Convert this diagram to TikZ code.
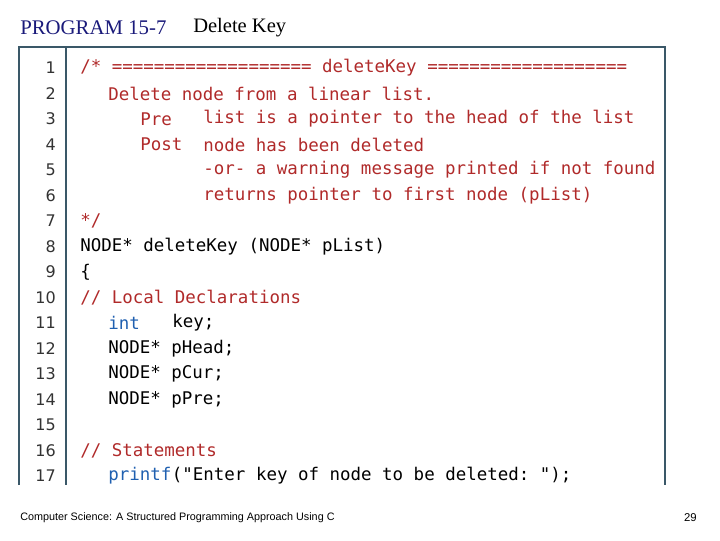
\documentclass[tikz,border=0pt]{standalone}
\usepackage{fontspec}
\setmainfont{Liberation Serif}
\setsansfont{Liberation Sans}
\setmonofont{DejaVu Sans Mono}
\newfontfamily\numfont{DejaVu Sans}
\definecolor{cm}{HTML}{B02A2A}
\definecolor{kw}{HTML}{2060B0}
\definecolor{frame}{HTML}{3A5868}
\definecolor{ttl}{HTML}{1A1A7A}
\begin{document}
\begin{tikzpicture}[x=0.75pt,y=-0.75pt,
  code/.style={anchor=west,inner sep=0pt,font=\ttfamily\fontsize{13.1}{14}\selectfont},
  lnum/.style={anchor=east,inner sep=0pt,font=\numfont\fontsize{12}{14}\selectfont,text=black!80}]
\useasboundingbox (0,0) rectangle (720,540);
\node[anchor=west,inner sep=0pt,text=ttl,font=\fontsize{15.6}{17}\selectfont] (t1) at (20,28) {PROGRAM 15-7};
\node[anchor=west,inner sep=0pt,font=\fontsize{15.4}{17}\selectfont] (t2) at (193,28) {Delete Key};
\draw[frame,line width=1pt] (19,485) -- (19,47) -- (665,47) -- (665,485);
\draw[frame,line width=0.8pt] (66,47) -- (66,485);
\foreach \i in {1,...,17} \node[lnum] (n\i) at (56,{68+(\i-1)*25.5}) {\i};
\def\Y#1{{68+(#1-1)*25.5}}
\node[code,text=cm] (c1) at (80,\Y1) {/* =================== deleteKey ===================};
\node[code,text=cm] (c2) at (108,\Y2) {Delete node from a linear list.};
\node[code,text=cm] (c3a) at (140,\Y3) {Pre};
\node[code,text=cm] (c3b) at (203,\Y3) {list is a pointer to the head of the list};
\node[code,text=cm] (c4a) at (140,\Y4) {Post};
\node[code,text=cm] (c4b) at (203,\Y4) {node has been deleted};
\node[code,text=cm] (c5) at (203,\Y5) {-or- a warning message printed if not found};
\node[code,text=cm] (c6) at (203,\Y6) {returns pointer to first node (pList)};
\node[code,text=cm] (c7) at (80,\Y7) {*/};
\node[code] (c8) at (80,\Y8) {NODE* deleteKey (NODE* pList)};
\node[code] (c9) at (80,\Y9) {\{};
\node[code,text=cm] (c10) at (80,\Y{10}) {// Local Declarations};
\node[code,text=kw] (c11a) at (108,\Y{11}) {int};
\node[code] (c11b) at (172,\Y{11}) {key;};
\node[code] (c12) at (108,\Y{12}) {NODE* pHead;};
\node[code] (c13) at (108,\Y{13}) {NODE* pCur;};
\node[code] (c14) at (108,\Y{14}) {NODE* pPre;};
\node[code,text=cm] (c16) at (80,\Y{16}) {// Statements};
\node[code,text=kw] (c17a) at (108,\Y{17}) {printf};
\node[code] (c17b) at (c17a.east) [anchor=west] {("Enter key of node to be deleted: ");};
\node[anchor=west,inner sep=0pt,font=\sffamily\fontsize{8.1}{9}\selectfont] (f1) at (20,518) {Computer Science: A Structured Programming Approach Using C};
\node[anchor=east,inner sep=0pt,font=\sffamily\fontsize{8.5}{9}\selectfont] (f2) at (697,518) {29};
\end{tikzpicture}
\end{document}
